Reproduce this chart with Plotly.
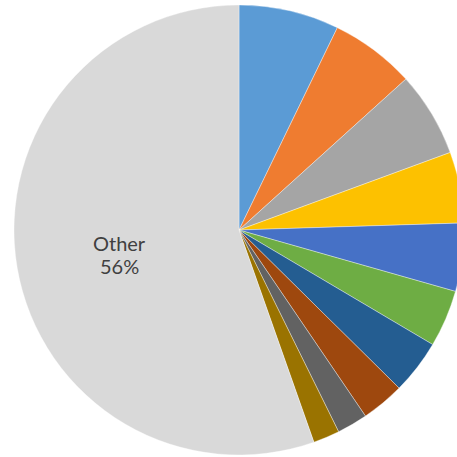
import plotly.graph_objects as go

labels = ["Item 1", "Item 2", "Item 3", "Item 4", "Item 5", "Item 6",
          "Item 7", "Item 8", "Item 9", "Item 10", "Other"]
values = [7.2, 6.1, 6.1, 5.1, 4.9, 4.1, 3.9, 3.1, 2.2, 1.9, 55.4]
colors = ["#5B9BD5", "#EF7C30", "#A5A5A5", "#FDC100", "#4671C6", "#6EAD44",
          "#245D91", "#9E480E", "#626262", "#9A7300", "#D9D9D9"]
other_lines = ["Other", "56%"]

fig = go.Figure(go.Pie(
    labels=labels,
    values=values,
    sort=False,
    direction="clockwise",
    rotation=0,
    marker=dict(colors=colors, line=dict(color="rgba(255,255,255,0.6)", width=0.6)),
    textinfo="none",
    hoverinfo="label+percent",
    showlegend=False,
))

for txt, ypos in zip(other_lines, [243, 266]):
    fig.add_annotation(
        x=119, y=ypos, xref="x", yref="y",
        text=txt, showarrow=False, borderpad=0,
        font=dict(family="Lato, Carlito, sans-serif", size=20, color="#404040"),
        align="center",
    )

fig.update_layout(
    width=480, height=457,
    margin=dict(l=14, r=16, t=5, b=2),
    paper_bgcolor="white", plot_bgcolor="white",
    xaxis=dict(range=[14, 464], visible=False, domain=[0, 1]),
    yaxis=dict(range=[455, 5], visible=False),
)

fig.write_html("out.html", post_script="document.body.style.overflow='hidden';document.body.style.margin='0';")
